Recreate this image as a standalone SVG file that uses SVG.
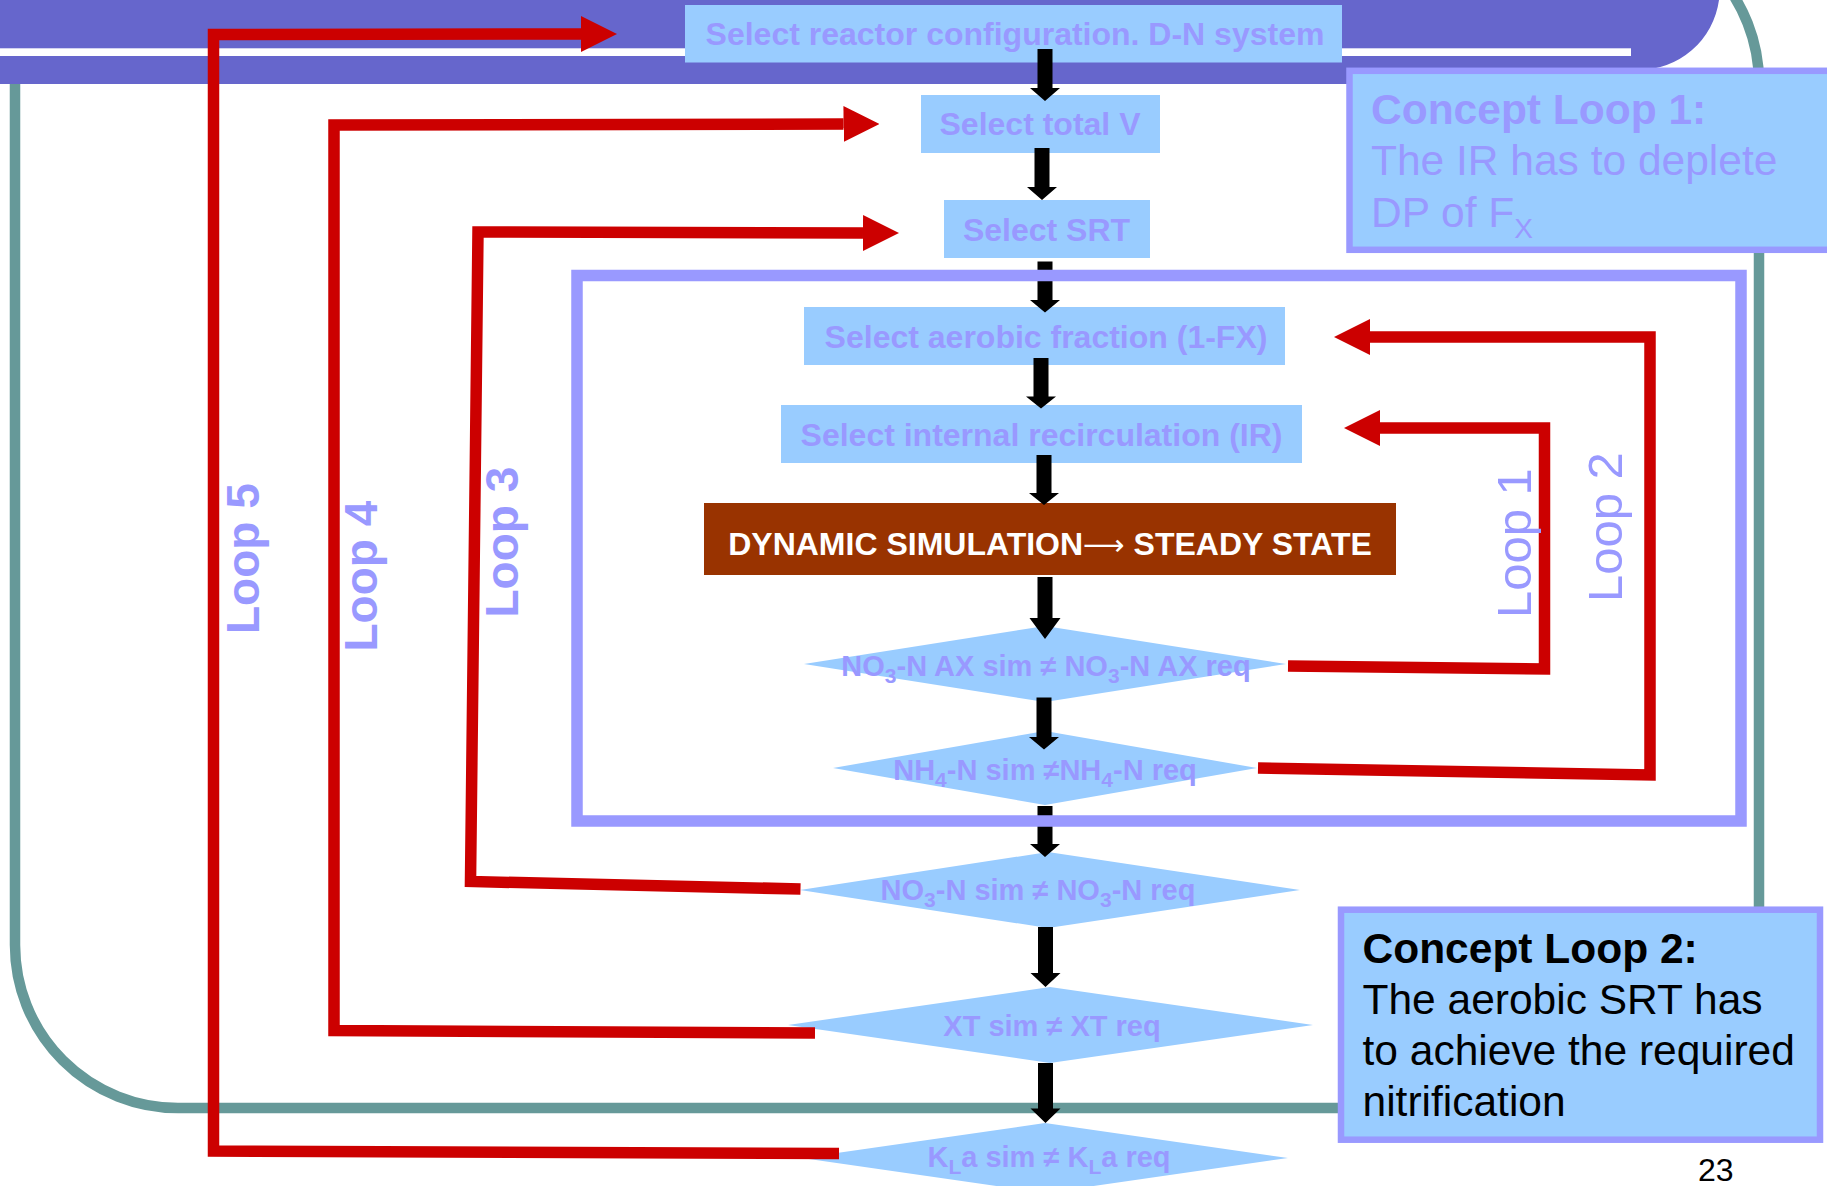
<svg xmlns="http://www.w3.org/2000/svg" width="1827" height="1186" viewBox="0 0 1827 1186">
  <defs>
    <style>
      .box { fill: #99CCFF; }
      .ntext { font-family: "Liberation Sans", Arial, sans-serif; font-weight: bold; font-size: 32px; fill: #9999FF; text-anchor: middle; }
      .dtext { font-family: "Liberation Sans", Arial, sans-serif; font-weight: bold; font-size: 29px; fill: #9999FF; text-anchor: middle; }
      .sub { font-size: 21px; }
      .flow { fill: #000000; }
      .loop { fill: none; stroke: #CC0000; stroke-width: 11.5; stroke-linejoin: miter; marker-end: url(#redHead); }
      .looplbl { font-family: "Liberation Sans", Arial, sans-serif; font-weight: bold; font-size: 46px; fill: #9999FF; }
      .looplbl-r { font-family: "Liberation Sans", Arial, sans-serif; font-size: 49px; fill: #9999FF; }
      .note { fill: #99CCFF; stroke: #9999FF; stroke-width: 6.5; }
      .ntitle { font-family: "Liberation Sans", Arial, sans-serif; font-weight: bold; font-size: 42.5px; }
      .nbody { font-family: "Liberation Sans", Arial, sans-serif; font-size: 42.5px; }
    </style>
    <marker id="redHead" viewBox="0 0 36 36" refX="0" refY="18" markerWidth="36" markerHeight="36" markerUnits="userSpaceOnUse" orient="auto">
      <path d="M0,0 L36,18 L0,36 Z" fill="#CC0000"/>
    </marker>
  </defs>

  <rect x="0" y="0" width="1827" height="1186" fill="#FFFFFF"/>

  <!-- slide template: teal rounded frame, purple title band -->
  <g id="template">
    <rect x="15" y="-80" width="1744" height="1188" rx="163" ry="163" fill="none" stroke="#669999" stroke-width="10.5"/>
    <path d="M0,0 H1719 A81,81 0 0 1 1638,70 V84 H0 Z" fill="#6666CC"/>
    <rect x="0" y="48.3" width="1631" height="7.7" fill="#FFFFFF"/>
  </g>

  <!-- process steps -->
  <g id="node-reactor">
    <rect class="box" x="685" y="5" width="657" height="57.5"/>
    <text class="ntext" x="1015" y="45">Select reactor configuration. D-N system</text>
  </g>
  <g id="node-volume">
    <rect class="box" x="921" y="95" width="239" height="58"/>
    <text class="ntext" x="1040" y="135">Select total V</text>
  </g>
  <g id="node-srt">
    <rect class="box" x="944" y="200" width="206" height="58"/>
    <text class="ntext" x="1046.5" y="240.5">Select SRT</text>
  </g>
  <g id="node-aerobic">
    <rect class="box" x="804" y="307" width="481" height="58"/>
    <text class="ntext" x="1046" y="347.5">Select aerobic fraction (1-FX)</text>
  </g>
  <g id="node-ir">
    <rect class="box" x="781" y="405" width="521" height="58"/>
    <text class="ntext" x="1041.5" y="445.5">Select internal recirculation (IR)</text>
  </g>
  <g id="node-simulation">
    <rect x="704" y="503" width="692" height="72" fill="#993300"/>
    <text x="1050" y="555" font-family="Liberation Sans, Arial, sans-serif" font-weight="bold" font-size="32" fill="#FFFFFF" text-anchor="middle">DYNAMIC SIMULATION<tspan font-family="DejaVu Sans, sans-serif" font-weight="normal" font-size="29">⟶</tspan> STEADY STATE</text>
  </g>

  <!-- decision checks -->
  <g id="check-no3-ax">
    <polygon class="box" points="804,664 1045,626 1286,664 1045,702"/>
    <text class="dtext" x="1046" y="676">NO<tspan class="sub" dy="7">3</tspan><tspan dy="-7">-N AX sim ≠ NO</tspan><tspan class="sub" dy="7">3</tspan><tspan dy="-7">-N AX req</tspan></text>
  </g>
  <g id="check-nh4">
    <polygon class="box" points="833,768 1045,731 1257,768 1045,805"/>
    <text class="dtext" x="1045" y="780">NH<tspan class="sub" dy="7">4</tspan><tspan dy="-7">-N sim ≠NH</tspan><tspan class="sub" dy="7">4</tspan><tspan dy="-7">-N req</tspan></text>
  </g>
  <g id="check-no3">
    <polygon class="box" points="800,890 1048,852 1300,890 1048,928"/>
    <text class="dtext" x="1038" y="900">NO<tspan class="sub" dy="7">3</tspan><tspan dy="-7">-N sim ≠ NO</tspan><tspan class="sub" dy="7">3</tspan><tspan dy="-7">-N req</tspan></text>
  </g>
  <g id="check-xt">
    <polygon class="box" points="788,1025 1050,987 1313,1025 1050,1063"/>
    <text class="dtext" x="1052" y="1036">XT sim ≠ XT req</text>
  </g>
  <g id="check-kla">
    <polygon class="box" points="802,1158 1045,1123 1288,1158 1045,1193"/>
    <text class="dtext" x="1049" y="1167">K<tspan class="sub" dy="7">L</tspan><tspan dy="-7">a sim ≠ K</tspan><tspan class="sub" dy="7">L</tspan><tspan dy="-7">a req</tspan></text>
  </g>

  <!-- connectors: main flow (black) and iteration loops (red) -->
  <g id="connectors">
    <path class="flow" d="M1037.5,49 H1052.5 V88 H1060 L1045,101 L1030,88 H1037.5 Z"/>
    <path class="flow" d="M1034.5,148 H1049.5 V187 H1057 L1042,200 L1027,187 H1034.5 Z"/>
    <path class="flow" d="M1037.5,261.5 H1052.5 V300 H1060 L1045,312.5 L1030,300 H1037.5 Z"/>
    <path class="flow" d="M1033.5,358 H1048.5 V396.5 H1056 L1041,408.5 L1026,396.5 H1033.5 Z"/>
    <path class="flow" d="M1036.5,455 H1051.5 V493 H1059 L1044,505 L1029,493 H1036.5 Z"/>
    <path class="flow" d="M1037.5,577 H1052.5 V618 H1060.5 L1045,639 L1029.5,618 H1037.5 Z"/>
    <path class="flow" d="M1036.5,697.5 H1051.5 V737 H1059 L1044,749.5 L1029,737 H1036.5 Z"/>
    <path class="flow" d="M1037.5,806 H1052.5 V844 H1060 L1045,857 L1030,844 H1037.5 Z"/>
    <path class="flow" d="M1038,927 H1053 V973 H1060.5 L1045.5,987 L1030.5,973 H1038 Z"/>
    <path class="flow" d="M1038,1063 H1053 V1108.5 H1060.5 L1045.5,1123 L1030.5,1108.5 H1038 Z"/>

    <path id="loop1" class="loop" d="M1288,666 L1544.5,669 L1544.5,428 L1380,428"/>
    <path id="loop2" class="loop" d="M1258,768 L1650,775 L1650,337 L1370,337"/>
    <path id="loop3" class="loop" d="M800.5,889 L470.5,881.5 L478,232 L863,233"/>
    <path id="loop4" class="loop" d="M815,1033 L334,1030.5 L334,125 L843.5,124"/>
    <path id="loop5" class="loop" d="M839,1153.5 L213.5,1151 L213.5,34.5 L581,34"/>

    <text class="looplbl-r" transform="translate(1531,618) rotate(-90)">Loop 1</text>
    <text class="looplbl-r" transform="translate(1622,602) rotate(-90)">Loop 2</text>
    <text class="looplbl" transform="translate(518,617.5) rotate(-90)">Loop 3</text>
    <text class="looplbl" transform="translate(377,651.5) rotate(-90)">Loop 4</text>
    <text class="looplbl" transform="translate(259,634) rotate(-90)">Loop 5</text>
  </g>

  <!-- inner loop boundary -->
  <g id="inner-frame">
    <rect x="577" y="275.5" width="1164" height="545.5" fill="none" stroke="#9999FF" stroke-width="11.5"/>
  </g>

  <!-- concept notes -->
  <g id="note-loop1">
    <rect class="note" x="1349.5" y="70.8" width="520" height="179"/>
    <text x="1371" y="124" fill="#9999FF" class="ntitle">Concept Loop 1:</text>
    <text x="1371" y="175" fill="#9999FF" class="nbody">The IR has to deplete</text>
    <text x="1371" y="226.7" fill="#9999FF" class="nbody">DP of F<tspan font-size="28" dy="11">X</tspan></text>
  </g>
  <g id="note-loop2">
    <rect class="note" x="1341" y="909.7" width="479" height="230" stroke-width="6"/>
    <text x="1362.5" y="963" fill="#000000" class="ntitle">Concept Loop 2:</text>
    <text x="1362.5" y="1014" fill="#000000" class="nbody">The aerobic SRT has</text>
    <text x="1362.5" y="1065" fill="#000000" class="nbody">to achieve the required</text>
    <text x="1362.5" y="1116" fill="#000000" class="nbody">nitrification</text>
  </g>

  <text id="page-number" x="1698" y="1181" font-family="Liberation Sans, Arial, sans-serif" font-size="32" fill="#000000">23</text>
</svg>
